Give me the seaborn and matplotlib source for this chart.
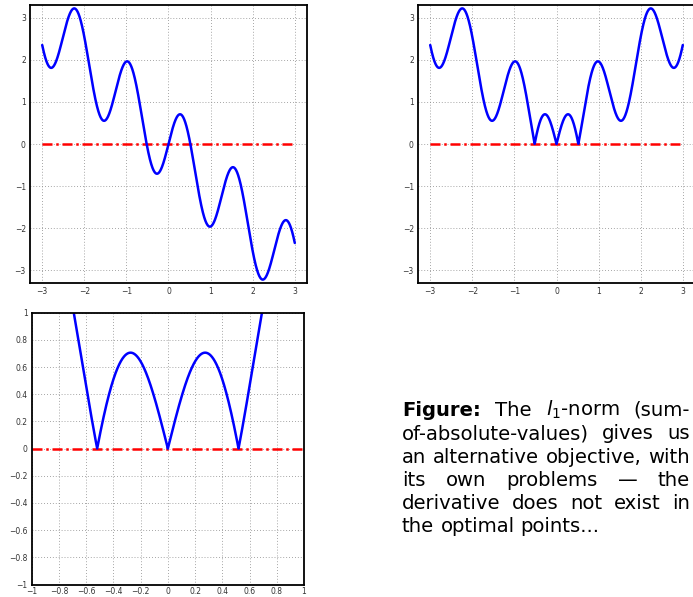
import numpy as np
import pandas as pd
import seaborn as sns
import matplotlib.pyplot as plt
from matplotlib.ticker import FixedLocator

# curve: f(x) = amp * sin(freq * x) + slope * x
amp = 1.0
freq = 5.0
slope = -1.0

x_wide = np.linspace(-3, 3, 3001)
x_zoom = np.linspace(-1, 1, 4001)
ref_level = [0.0, 0.0]

ticks_wide = [-3, -2, -1, 0, 1, 2, 3]
ticks_zoom = [-1, -0.8, -0.6, -0.4, -0.2, 0, 0.2, 0.4, 0.6, 0.8, 1]
ticklabels_zoom = ["\u22121", "\u22120.8", "\u22120.6", "\u22120.4", "\u22120.2", "0",
                   "0.2", "0.4", "0.6", "0.8", "1"]

caption = [
    ["Figure:", "The", "$l_1$-norm", "(sum-"],
    ["of-absolute-values)", "gives", "us"],
    ["an", "alternative", "objective,", "with"],
    ["its", "own", "problems", "\u2014", "the"],
    ["derivative", "does", "not", "exist", "in"],
    ["the", "optimal", "points..."],
]

f_wide = amp * np.sin(freq * x_wide) + slope * x_wide
f_zoom = amp * np.sin(freq * x_zoom) + slope * x_zoom

sns.set_style("white")
plt.rcParams["font.family"] = ["DejaVu Sans"]
plt.rcParams["mathtext.fontset"] = "dejavusans"

W, H = 693, 597
fig = plt.figure(figsize=(W / 100, H / 100), dpi=100)


def px_axes(left, top, right, bottom):
    return fig.add_axes([left / W, 1 - bottom / H, (right - left) / W, (bottom - top) / H])


def style(ax, ticks, labels=None, xpad=3):
    ax.xaxis.set_major_locator(FixedLocator(ticks))
    ax.yaxis.set_major_locator(FixedLocator(ticks))
    if labels is not None:
        ax.set_xticklabels(labels)
        ax.set_yticklabels(labels)
    ax.tick_params(direction="in", length=3, width=0.8, labelsize=5.5,
                   labelcolor="#333333", color="black", pad=3)
    ax.tick_params(axis="x", pad=xpad)
    ax.grid(True, linestyle=(0, (1, 2.5)), color="#888888", linewidth=0.6)
    for s in ax.spines.values():
        s.set_linewidth(1.3)
        s.set_color("black")
    ax.set_xlabel("")
    ax.set_ylabel("")


dash = (0, (4, 1.5, 1, 1.5))

# panel 1: the raw function
ax1 = px_axes(30, 5, 307, 283)
sns.lineplot(x=[-3, 3], y=ref_level, ax=ax1, color="red", lw=1.8, linestyle=dash)
sns.lineplot(x=x_wide, y=f_wide, ax=ax1, color="blue", lw=1.8, sort=False, estimator=None)
ax1.set_xlim(-3.29, 3.29)
ax1.set_ylim(-3.3, 3.3)
style(ax1, ticks_wide)

# panel 2: absolute value
ax2 = px_axes(418, 5, 695, 283)
sns.lineplot(x=[-3, 3], y=ref_level, ax=ax2, color="red", lw=1.8, linestyle=dash)
sns.lineplot(x=x_wide, y=np.abs(f_wide), ax=ax2, color="blue", lw=1.8, sort=False, estimator=None)
ax2.set_xlim(-3.29, 3.29)
ax2.set_ylim(-3.3, 3.3)
style(ax2, ticks_wide)

# panel 3: zoom around the kinks
ax3 = px_axes(31.7, 312.7, 304, 584.5)
sns.lineplot(x=[-1, 1], y=ref_level, ax=ax3, color="red", lw=1.8, linestyle=dash)
sns.lineplot(x=x_zoom, y=np.abs(f_zoom), ax=ax3, color="blue", lw=1.8, sort=False, estimator=None)
ax3.set_xlim(-1, 1)
ax3.set_ylim(-1, 1)
style(ax3, ticks_zoom, ticklabels_zoom, xpad=1.5)

# justified caption
renderer = fig.canvas.get_renderer()
x0, x1 = 402.0, 690.0
base0, dy = 416.0, 23.3


def measure(word, size, bold=False):
    t = fig.text(0, 0, word, fontsize=size, fontweight="bold" if bold else "normal")
    w = t.get_window_extent(renderer).width
    t.remove()
    return w


# pick font size so the naturally spaced third line fills the width
probe = 10.0
nat = sum(measure(w, probe) for w in caption[2]) + 3 * measure("a a", probe) - 3 * measure("aa", probe)
size = probe * (x1 - x0) / nat

space = measure("a a", size) - measure("aa", size)
for i, words in enumerate(caption):
    bolds = [i == 0 and j == 0 for j in range(len(words))]
    widths = [measure(w, size, b) for w, b in zip(words, bolds)]
    if i < len(caption) - 1:
        gap = (x1 - x0 - sum(widths)) / (len(words) - 1)
    else:
        gap = space
    x = x0
    yb = base0 + i * dy
    for w, b, wd in zip(words, bolds, widths):
        fig.text(x / W, 1 - yb / H, w, fontsize=size, va="baseline", ha="left",
                 fontweight="bold" if b else "normal", color="black")
        x += wd + gap

fig.savefig("out.png", dpi=100)
